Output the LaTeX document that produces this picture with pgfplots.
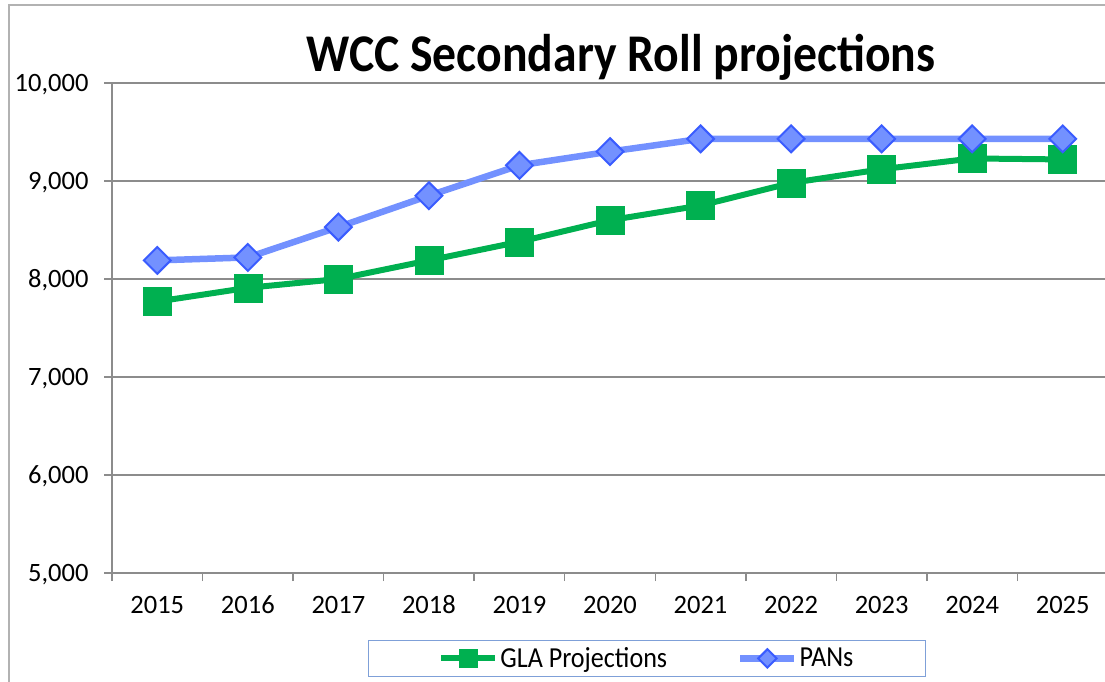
\documentclass[border=0pt]{standalone}
\usepackage{fontspec}
\setmainfont{Carlito}[FakeStretch=0.9]
\newfontfamily\tickfont{Carlito}
\usepackage{pgfplots}
\pgfplotsset{compat=1.18}
\definecolor{glagreen}{HTML}{00B050}
\definecolor{panline}{HTML}{7391FF}
\definecolor{panfill}{HTML}{7391FF}
\definecolor{panedge}{HTML}{3A5CFF}
\definecolor{gridgray}{HTML}{8C8C8C}
\definecolor{legendedge}{HTML}{7FA0D8}
\begin{document}
\begin{tikzpicture}[x=1pt,y=1pt]
\useasboundingbox (0,0) rectangle (1105,681);
\fill[white] (0,0) rectangle (1105,681);
\draw[line width=2pt, color=gray!60] (9,-20) -- (9,676) -- (1130,676);
\node[font=\fontsize{53}{60}\selectfont\bfseries, anchor=base, inner sep=0pt] at (621,609) {WCC Secondary Roll projections};
\begin{axis}[
  at={(112pt,108pt)}, anchor=south west,
  scale only axis, width=996pt, height=490pt,
  xmin=-0.5, xmax=10.5, ymin=5000, ymax=10000,
  axis lines*=left,
  axis line style={gridgray, line width=1.5pt},
  ytick={5000,6000,...,10000},
  scaled y ticks=false,
  ymajorgrids, grid style={gridgray, line width=1.5pt},
  xtick={0,...,10},
  xticklabels={2015,2016,2017,2018,2019,2020,2021,2022,2023,2024,2025},
  major x tick style={draw=none},
  minor xtick={-0.5,0.5,...,10.5},
  tick align=outside,
  major tick length=8pt, minor tick length=8pt,
  tick style={gridgray, line width=1.5pt},
  ticklabel style={font=\tickfont\fontsize{26.5}{30}\selectfont, text height=17pt, text depth=0pt},
  yticklabel style={xshift=-12pt},
  xticklabel style={yshift=-12pt},
  /pgf/number format/.cd, fixed, precision=0, assume math mode=true, 1000 sep={,},
  /pgfplots/.cd,
  legend columns=2,
  legend style={at={(0.537,-0.137)}, anchor=north, draw=legendedge, line width=1pt,
    font=\fontsize{29}{33}\selectfont, inner xsep=70pt, inner ysep=5pt},
  /tikz/every even column/.append style={column sep=68pt},
  legend image code/.code={\draw[#1, mark repeat=2, mark phase=2] plot coordinates {(0pt,0pt) (27pt,0pt) (54pt,0pt)};},
]
\addplot[glagreen, line width=6pt, mark=square*, mark size=14pt, mark options={solid, fill=glagreen, draw=glagreen, line width=0.5pt},
  legend image post style={mark size=9pt}]
  coordinates {(0,7770) (1,7910) (2,8000) (3,8190) (4,8380) (5,8600) (6,8750) (7,8980) (8,9120) (9,9230) (10,9220)};
\addlegendentry{GLA Projections}
\addplot[panline, line width=6.5pt, mark=square*, mark size=9.5pt, mark options={solid, rotate=45, fill=panfill, draw=panedge, line width=2pt},
  legend image post style={mark size=6.5pt}]
  coordinates {(0,8190) (1,8220) (2,8530) (3,8850) (4,9160) (5,9300) (6,9430) (7,9430) (8,9430) (9,9430) (10,9430)};
\addlegendentry{PANs}
\end{axis}
\end{tikzpicture}
\end{document}
